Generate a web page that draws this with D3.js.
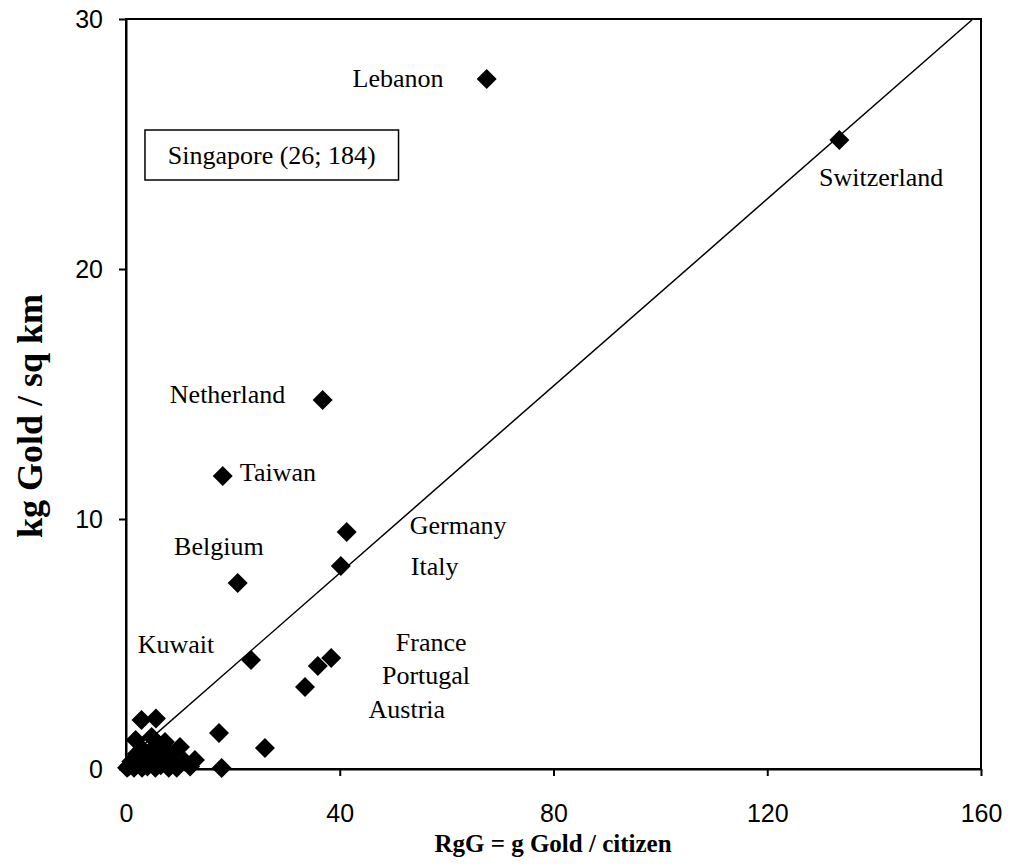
<!DOCTYPE html>
<html>
<head>
<meta charset="utf-8">
<script src="https://cdn.jsdelivr.net/npm/d3@7"></script>
<style>
  body { margin: 0; background: #fff; }
  svg { display: block; }
</style>
</head>
<body>
<div id="chart"></div>
<script>
// g gold per citizen (x) vs kg gold per sq km (y)
const goldPerCitizen = [
  67.5, 133.5, 36.8, 18.1, 41.3, 40.2, 20.9, 23.4, 38.4, 35.9, 33.5,
  17.4, 26.0, 17.9,
  2.9, 5.6, 1.8, 4.8, 7.3, 10.1, 12.9, 6.0, 3.0,
  0.2, 0.5, 1.0, 1.5, 2.0, 2.5, 3.0, 3.5, 4.0, 4.5, 5.0, 5.5, 6.0,
  6.5, 7.0, 7.5, 8.0, 8.5, 9.0, 9.5, 11.0, 12.0
];
const goldPerSqKm = [
  27.6, 25.16, 14.76, 11.72, 9.48, 8.12, 7.44, 4.36, 4.44, 4.12, 3.28,
  1.44, 0.84, 0.04,
  1.96, 2.02, 1.16, 1.28, 1.08, 0.88, 0.36, 0.9, 0.8,
  0.05, 0.1, 0.3, 0.05, 0.6, 0.2, 0.05, 0.4, 0.1, 0.7, 0.3, 0.05, 0.5,
  0.15, 0.8, 0.3, 0.05, 0.55, 0.2, 0.05, 0.3, 0.1
];

const labelNames = ["Lebanon", "Switzerland", "Netherland", "Taiwan", "Germany", "Belgium",
  "Italy", "Kuwait", "France", "Portugal", "Austria"];
const labelX = [42.4, 129.7, 8.2, 21.3, 53.1, 9.0, 53.3, 2.2, 50.5, 47.9, 45.4];
const labelY = [27.28, 23.32, 14.64, 11.52, 9.4, 8.56, 7.76, 4.64, 4.72, 3.4, 2.04];

const xTicks = [0, 40, 80, 120, 160];
const yTicks = [0, 10, 20, 30];

// reference line endpoints
const lineX = [0, 158.5];
const lineY = [0.355, 30];

const W = 1010, H = 868;
const svg = d3.select("#chart").append("svg")
  .attr("width", W).attr("height", H);

const x = d3.scaleLinear().domain([0, 160]).range([126, 981]);
const y = d3.scaleLinear().domain([0, 30]).range([769, 19]);

// frame
svg.append("rect")
  .attr("x", x(0)).attr("y", y(30))
  .attr("width", x(160) - x(0)).attr("height", y(0) - y(30))
  .attr("fill", "none").attr("stroke", "#000").attr("stroke-width", 2);

// axes
const xAxis = svg.append("g")
  .attr("transform", `translate(0,${y(0)})`)
  .call(d3.axisBottom(x).tickValues(xTicks).tickSize(7).tickSizeOuter(0).tickPadding(28));
const yAxis = svg.append("g")
  .attr("transform", `translate(${x(0)},0)`)
  .call(d3.axisLeft(y).tickValues(yTicks).tickSize(7).tickSizeOuter(0).tickPadding(16));

[xAxis, yAxis].forEach(a => {
  a.select(".domain").attr("stroke-width", 2);
  a.selectAll(".tick line").attr("stroke-width", 2);
  a.selectAll(".tick text")
    .attr("font-family", "'Liberation Sans', Arial, sans-serif")
    .attr("font-size", 25).attr("fill", "#000");
});

// diagonal line
svg.append("line")
  .attr("x1", x(lineX[0])).attr("y1", y(lineY[0]))
  .attr("x2", x(lineX[1])).attr("y2", y(lineY[1]))
  .attr("stroke", "#000").attr("stroke-width", 1.5);

// diamond markers
const pts = goldPerCitizen.map((v, i) => [v, goldPerSqKm[i]]);
const r = 10;
svg.append("g").selectAll("path")
  .data(pts)
  .join("path")
  .attr("d", d => {
    const cx = x(d[0]), cy = y(d[1]);
    return `M${cx},${cy - r}L${cx + r},${cy}L${cx},${cy + r}L${cx - r},${cy}Z`;
  })
  .attr("fill", "#000");

// country labels
svg.append("g").selectAll("text")
  .data(labelNames)
  .join("text")
  .attr("x", (d, i) => x(labelX[i]))
  .attr("y", (d, i) => y(labelY[i]))
  .attr("font-family", "'Liberation Serif', 'Times New Roman', serif")
  .attr("font-size", 26)
  .text(d => d);

// Singapore box
svg.append("rect")
  .attr("x", x(3.55)).attr("y", y(25.56))
  .attr("width", x(51.0) - x(3.55)).attr("height", y(23.56) - y(25.56))
  .attr("fill", "#fff").attr("stroke", "#000").attr("stroke-width", 1.5);
svg.append("text")
  .attr("x", (x(3.55) + x(51.0)) / 2).attr("y", y(24.2))
  .attr("text-anchor", "middle")
  .attr("font-family", "'Liberation Serif', 'Times New Roman', serif")
  .attr("font-size", 26)
  .text("Singapore (26; 184)");

// axis titles
svg.append("text")
  .attr("x", 553).attr("y", 852)
  .attr("text-anchor", "middle")
  .attr("font-family", "'Liberation Serif', 'Times New Roman', serif")
  .attr("font-weight", "bold").attr("font-size", 25)
  .text("RgG = g Gold / citizen");

svg.append("text")
  .attr("transform", "translate(42,416) rotate(-90)")
  .attr("text-anchor", "middle")
  .attr("font-family", "'Liberation Serif', 'Times New Roman', serif")
  .attr("font-weight", "bold").attr("font-size", 36)
  .text("kg Gold / sq km");
</script>
</body>
</html>
